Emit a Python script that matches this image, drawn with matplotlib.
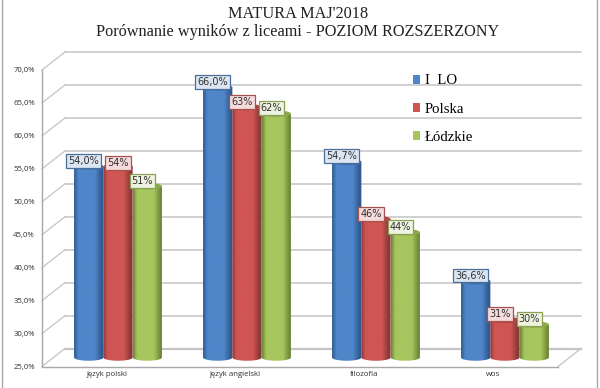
import numpy as np
import matplotlib
matplotlib.use("Agg")
import matplotlib.pyplot as plt
from matplotlib.colors import LinearSegmentedColormap
from matplotlib.patches import Ellipse, Patch, PathPatch
from matplotlib.path import Path

categories = ["język polski", "język angielski", "filozofia", "wos"]
series_names = ["I  LO", "Polska", "Łódzkie"]

lo_values = [54.0, 66.0, 54.7, 36.6]
polska_values = [54.0, 63.0, 46.0, 30.7]
lodzkie_values = [51.0, 62.0, 44.0, 30.0]

lo_labels = ["54,0%", "66,0%", "54,7%", "36,6%"]
polska_labels = ["54%", "63%", "46%", "31%"]
lodzkie_labels = ["51%", "62%", "44%", "30%"]

y_ticks = [25, 30, 35, 40, 45, 50, 55, 60, 65, 70]

# main colour, dark edge, top ellipse, label fill, label edge
styles = [
    ("#4f86c9", "#2f5a90", "#3d6ba6", "#dce6f2", "#4a6f9c"),
    ("#cf5553", "#8a3836", "#b04542", "#f5dcdb", "#a85250"),
    ("#a6c65e", "#6f8838", "#8bab47", "#eef3df", "#8aa055"),
]

GRID = "#c4c4c4"
W, H = 600, 388

fig = plt.figure(figsize=(W / 100, H / 100), dpi=100)
fig.patch.set_facecolor("white")
# front plane of the 3D box
ax = fig.add_axes([42 / W, 1 - 366.5 / H, 516 / W, 296.5 / H])
ax.set_xlim(0, 4)
ax.set_ylim(25, 70)
ax.patch.set_visible(False)

# depth of the box and size of one bar, in data units
dx = 23 / 129
dy = 18 / 6.59
bar_w = 29.3 / 129
ell_h = 6.5 / 6.59

# back wall, side wall, floor
for t in y_ticks:
    lw = 1.6 if t == 25 else 1.1
    ax.plot([dx, 4 + dx], [t + dy, t + dy], color=GRID, lw=lw, clip_on=False, zorder=1)
    ax.plot([0, dx], [t, t + dy], color=GRID, lw=0.9, clip_on=False, zorder=1)
ax.plot([4, 4 + dx], [25, 25 + dy], color=GRID, lw=0.9, clip_on=False, zorder=1)

for s in ["top", "right"]:
    ax.spines[s].set_visible(False)
for s in ["left", "bottom"]:
    ax.spines[s].set_color("#a8a8a8")
    ax.spines[s].set_linewidth(1.0)

ax.set_yticks(y_ticks)
ax.set_yticklabels([f"{t},0%" for t in y_ticks], fontsize=5.6, family="Open Sans", color="#303030")
ax.set_xticks(np.arange(len(categories)) + 0.5)
ax.set_xticklabels(categories, fontsize=5.6, family="Open Sans", color="#303030")
ax.tick_params(axis="both", length=0)
ax.tick_params(axis="y", pad=5)
ax.tick_params(axis="x", pad=3.5)


def draw_cylinder(x, top, base, style, z):
    main, dark, top_col, _, _ = style
    cmap = LinearSegmentedColormap.from_list(
        "cyl", [(0, dark), (0.14, main), (0.7, main), (0.93, dark), (1, dark)]
    )
    left, right = x - bar_w / 2, x + bar_w / 2
    t = np.linspace(np.pi, 2 * np.pi, 30)
    xs = np.r_[left, x + bar_w / 2 * np.cos(t), right, left]
    ys = np.r_[top, base + ell_h / 2 * np.sin(t), top, top]
    body = PathPatch(Path(np.c_[xs, ys]), transform=ax.transData, fc="none", ec="none")
    ax.add_patch(body)
    im = ax.imshow(
        np.linspace(0, 1, 64)[None, :],
        cmap=cmap,
        extent=(left, right, base - ell_h, top),
        aspect="auto",
        zorder=z,
        clip_on=True,
    )
    im.set_clip_path(body)
    ax.add_patch(Ellipse((x, top), bar_w, ell_h, fc=top_col, ec="none", zorder=z + 0.1, clip_on=False))


values = [lo_values, polska_values, lodzkie_values]
labels = [lo_labels, polska_labels, lodzkie_labels]
base = 25 + dy / 2

for i in range(len(categories)):
    for j in range(3):
        x = i + 0.5 + (j - 1) * bar_w + dx / 2
        draw_cylinder(x, values[j][i] + dy / 2, base, styles[j], 3 + j * 0.2 + i)

for i in range(len(categories)):
    for j in range(3):
        x = i + 0.5 + (j - 1) * bar_w + dx / 2
        off = (0, 2.2) if (i == 0 and j == 1) else (-3.6, 4)
        ax.annotate(
            labels[j][i],
            xy=(x, values[j][i] + dy / 2),
            xytext=off,
            textcoords="offset points",
            ha="center",
            va="center",
            fontsize=7.0,
            color="#303030",
            zorder=20,
            annotation_clip=False,
            bbox=dict(boxstyle="square,pad=0.2", fc=styles[j][3], ec=styles[j][4], lw=0.9),
        )

ax.set_xlim(0, 4)
ax.set_ylim(25, 70)

handles = [Patch(fc=s[0], ec="none") for s in styles]
leg = ax.legend(
    handles,
    series_names,
    loc="upper left",
    bbox_to_anchor=(413 / W, 1 - 74.5 / H),
    bbox_transform=fig.transFigure,
    frameon=False,
    prop={"family": "Liberation Serif", "size": 10.6},
    handlelength=0.5,
    handleheight=0.6,
    handletextpad=0.3,
    labelspacing=1.02,
    borderpad=0,
    borderaxespad=0,
)
leg.set_zorder(2)

fig.text(298 / W, 1 - 14 / H, "MATURA MAJ'2018", ha="center", va="center",
         family="Liberation Serif", fontsize=11.7, color="#202020")
fig.text(298 / W, 1 - 31.5 / H, "Porównanie wyników z liceami - POZIOM ROZSZERZONY", ha="center", va="center",
         family="Liberation Serif", fontsize=11.7, color="#202020")

# chart frame
fig.add_artist(plt.Line2D([1.5 / W, 1.5 / W], [0, 1], color="#a8a8a8", lw=1.0))
fig.add_artist(plt.Line2D([597 / W, 597 / W], [0, 1], color="#a8a8a8", lw=1.0))

fig.savefig("out.png", dpi=100)
